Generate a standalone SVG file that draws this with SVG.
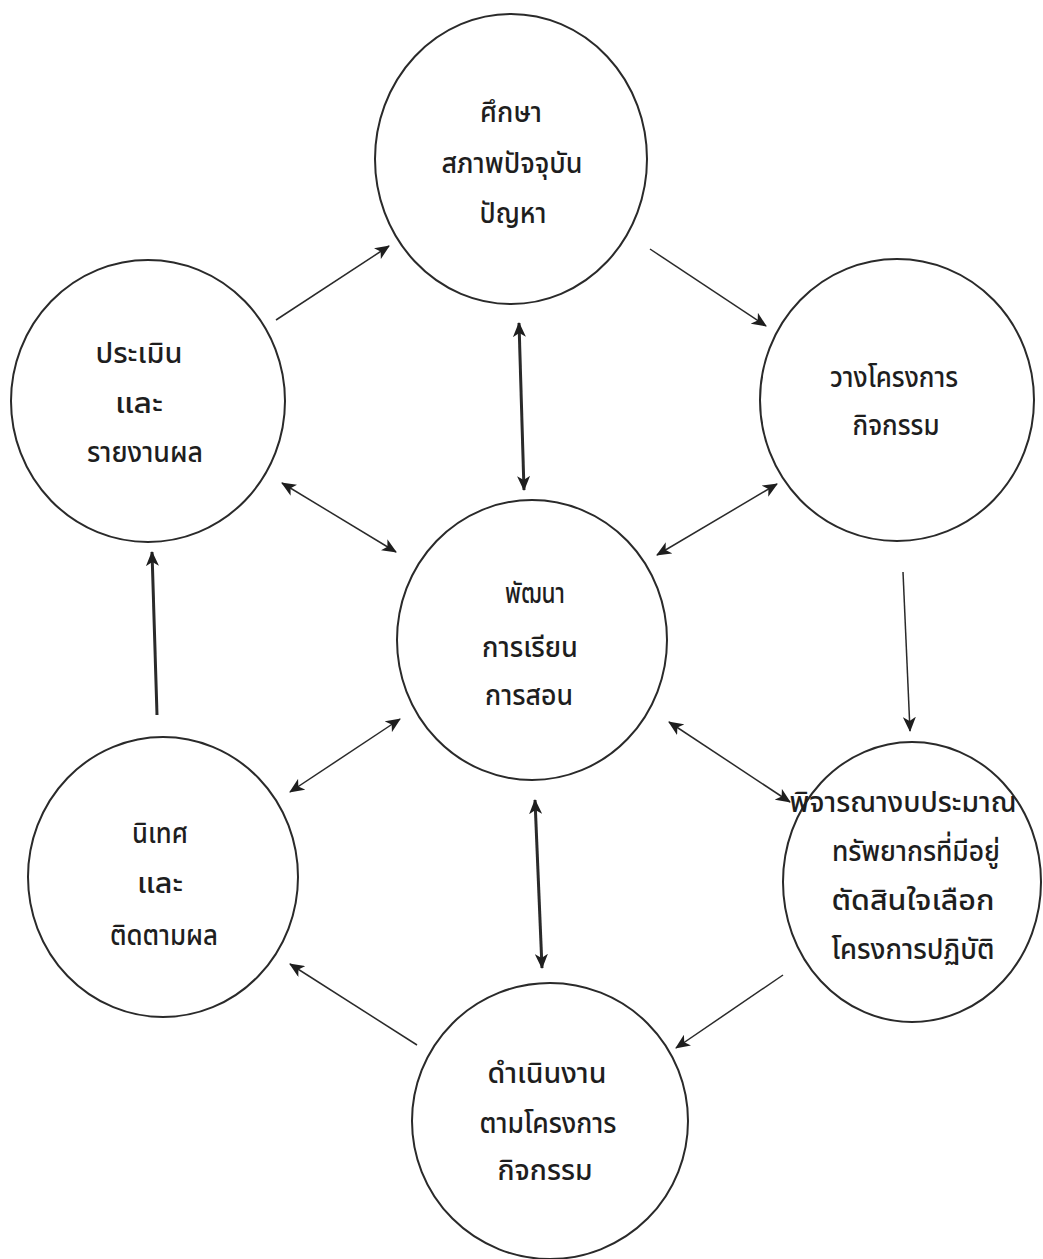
<svg xmlns="http://www.w3.org/2000/svg" width="1043" height="1259" viewBox="0 0 1043 1259">
<defs>
<style>
.node ellipse{fill:none;stroke:#2a2a2a;stroke-width:2}
.node text{font-family:"Noto Sans Thai","Noto Serif Thai","Loma","Garuda","Norasi","Noto Sans","DejaVu Sans",sans-serif;font-size:29px;font-weight:500;fill:#1e1e1e;text-anchor:middle}
.c{stroke:#2a2a2a;stroke-width:1.5;fill:none}
.t{stroke-width:3}
</style>
<marker id="ah" viewBox="0 0 15 13" refX="14" refY="6.5" markerWidth="15" markerHeight="13" markerUnits="userSpaceOnUse" orient="auto-start-reverse">
<path d="M0,0 L15,6.5 L0,13 L4,6.5 z" fill="#1e1e1e"/>
</marker>
</defs>
<rect width="1043" height="1259" fill="#ffffff"/>

<g id="connectors">
<line class="c" x1="276" y1="320" x2="389" y2="246" marker-end="url(#ah)"/>
<line class="c" x1="650" y1="249" x2="766" y2="326" marker-end="url(#ah)"/>
<line class="c t" x1="519" y1="323" x2="524" y2="490" marker-start="url(#ah)" marker-end="url(#ah)"/>
<line class="c" x1="282" y1="483" x2="396" y2="552" marker-start="url(#ah)" marker-end="url(#ah)"/>
<line class="c" x1="657" y1="555" x2="777" y2="484" marker-start="url(#ah)" marker-end="url(#ah)"/>
<line class="c" x1="903" y1="572" x2="910" y2="731" marker-end="url(#ah)"/>
<line class="c" x1="669" y1="722" x2="790" y2="802" marker-start="url(#ah)" marker-end="url(#ah)"/>
<line class="c" x1="400" y1="719" x2="290" y2="792" marker-start="url(#ah)" marker-end="url(#ah)"/>
<line class="c t" x1="535" y1="800" x2="542" y2="968" marker-start="url(#ah)" marker-end="url(#ah)"/>
<line class="c" x1="783" y1="975" x2="676" y2="1048" marker-end="url(#ah)"/>
<line class="c" x1="417" y1="1045" x2="290" y2="964" marker-end="url(#ah)"/>
<line class="c t" x1="157" y1="715" x2="152" y2="552" marker-end="url(#ah)"/>
</g>

<g id="node-study" class="node">
<ellipse cx="511" cy="159" rx="136" ry="145"/>
<text x="511" y="122" textLength="62" lengthAdjust="spacingAndGlyphs">ศึกษา</text>
<text x="512" y="173" textLength="141" lengthAdjust="spacingAndGlyphs">สภาพปัจจุบัน</text>
<text x="513" y="223" textLength="67" lengthAdjust="spacingAndGlyphs">ปัญหา</text>
</g>

<g id="node-evaluate" class="node">
<ellipse cx="148" cy="401" rx="137" ry="141"/>
<text x="139" y="363" textLength="87" lengthAdjust="spacingAndGlyphs">ประเมิน</text>
<text x="139" y="413" textLength="48" lengthAdjust="spacingAndGlyphs">และ</text>
<text x="145" y="462" textLength="116" lengthAdjust="spacingAndGlyphs">รายงานผล</text>
</g>

<g id="node-plan" class="node">
<ellipse cx="897" cy="400" rx="137" ry="141"/>
<text x="894" y="387" textLength="128" lengthAdjust="spacingAndGlyphs">วางโครงการ</text>
<text x="896" y="435" textLength="87" lengthAdjust="spacingAndGlyphs">กิจกรรม</text>
</g>

<g id="node-develop" class="node">
<ellipse cx="532" cy="640" rx="135" ry="140"/>
<text x="535" y="603" textLength="60" lengthAdjust="spacingAndGlyphs">พัฒนา</text>
<text x="530" y="657" textLength="96" lengthAdjust="spacingAndGlyphs">การเรียน</text>
<text x="529" y="705" textLength="88" lengthAdjust="spacingAndGlyphs">การสอน</text>
</g>

<g id="node-supervise" class="node">
<ellipse cx="163" cy="877" rx="135" ry="140"/>
<text x="160" y="843" textLength="56" lengthAdjust="spacingAndGlyphs">นิเทศ</text>
<text x="160" y="893" textLength="46" lengthAdjust="spacingAndGlyphs">และ</text>
<text x="164" y="945" textLength="108" lengthAdjust="spacingAndGlyphs">ติดตามผล</text>
</g>

<g id="node-consider" class="node">
<ellipse cx="912" cy="882" rx="129" ry="140"/>
<text x="903" y="812" textLength="227" lengthAdjust="spacingAndGlyphs">พิจารณางบประมาณ</text>
<text x="916" y="861" textLength="168" lengthAdjust="spacingAndGlyphs">ทรัพยากรที่มีอยู่</text>
<text x="913" y="910" textLength="163" lengthAdjust="spacingAndGlyphs">ตัดสินใจเลือก</text>
<text x="913" y="959" textLength="163" lengthAdjust="spacingAndGlyphs">โครงการปฏิบัติ</text>
</g>

<g id="node-implement" class="node">
<ellipse cx="550" cy="1121" rx="138" ry="138"/>
<text x="547" y="1083" textLength="119" lengthAdjust="spacingAndGlyphs">ดำเนินงาน</text>
<text x="548" y="1133" textLength="137" lengthAdjust="spacingAndGlyphs">ตามโครงการ</text>
<text x="545" y="1180" textLength="95" lengthAdjust="spacingAndGlyphs">กิจกรรม</text>
</g>
</svg>
